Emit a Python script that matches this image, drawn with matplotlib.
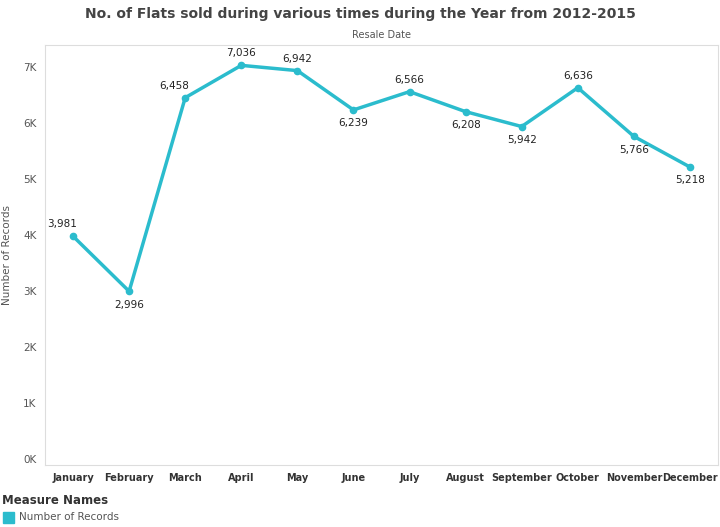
import matplotlib
matplotlib.use("Agg")
import matplotlib.pyplot as plt
from matplotlib.patches import Rectangle

months = ["January","February","March","April","May","June","July","August","September","October","November","December"]
records = [3981,2996,6458,7036,6942,6239,6566,6208,5942,6636,5766,5218]
label_pos = ["above","below","above","above","above","below","above","below","below","above","below","below"]
yticks = [0,1000,2000,3000,4000,5000,6000,7000]
ytick_labels = ["0K","1K","2K","3K","4K","5K","6K","7K"]
color = "#2bbccd"

fig = plt.figure(figsize=(7.2,5.27), dpi=100)
ax = fig.add_axes([45/720, 1-465/527, 673/720, 420/527])
x = list(range(len(months)))
ax.plot(x, records, color=color, lw=2.5, marker="o", ms=4.5)
for xi, v, p in zip(x, records, label_pos):
    dy = 5 if p == "above" else -6
    dx = -8 if xi in (0, 2) else 0
    ax.annotate(f"{v:,}", (xi, v), xytext=(dx, dy), textcoords="offset points",
                ha="center", va="bottom" if p == "above" else "top", fontsize=7.5, color="#222222")
ax.set_xlim(-0.5, 11.5)
ax.set_ylim(-110, 7400)
ax.set_yticks(yticks)
ax.set_yticklabels(ytick_labels, fontsize=7.5, color="#555555")
ax.set_xticks(x)
ax.set_xticklabels(months, fontsize=7, color="#333333", fontweight="bold")
ax.tick_params(length=0, pad=6)
for s in ax.spines.values():
    s.set_color("#dddddd")
ax.set_ylabel("Number of Records", fontsize=7.5, color="#555555", labelpad=8)
fig.text(0.5, 1-14/527, "No. of Flats sold during various times during the Year from 2012-2015",
         ha="center", va="center", fontsize=10, fontweight="bold", color="#444444")
fig.text(0.53, 1-35/527, "Resale Date", ha="center", va="center", fontsize=7, color="#555555")
fig.text(2/720, 1-501/527, "Measure Names", ha="left", va="center", fontsize=8.5, fontweight="bold", color="#333333")
fig.patches.append(Rectangle((3/720, 1-523/527), 11/720, 11/527, transform=fig.transFigure, color=color))
fig.text(19/720, 1-517/527, "Number of Records", ha="left", va="center", fontsize=7.5, color="#555555")
fig.savefig("out.png", dpi=100)
